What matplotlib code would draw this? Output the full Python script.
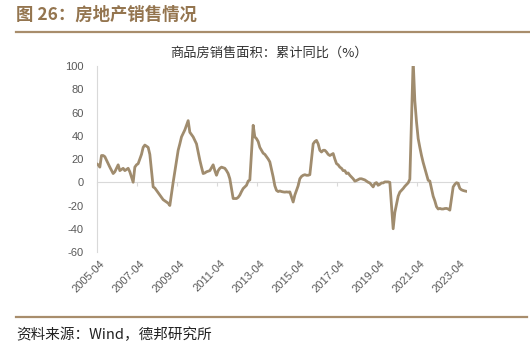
import matplotlib
matplotlib.use('Agg')
import matplotlib.pyplot as plt
from matplotlib.lines import Line2D
import matplotlib.transforms as mtransforms

plt.rcParams['font.family'] = ['Noto Sans CJK SC', 'DejaVu Sans']

# 商品房销售面积 累计同比 (%) — monthly values, January not published
first_months = {2005: 4}          # series starts 2005-04
y2005 = [16, 15, 13, 23, 23, 22, 19, 16, 13]                       # Apr..Dec
y2006 = [7.5, 9, 12, 15, 10, 11, 12, 10, 11, 12, 9]                # Feb..Dec
y2007 = [0, 13, 15, 16, 20, 24, 30, 32, 31, 30, 24]
y2008 = [-4, -5, -7, -9, -11, -13, -15, -16, -17, -18, -20]
y2009 = [0, 9, 18, 27.5, 33, 39, 42, 45, 49, 53, 43]
y2010 = [39, 36, 33, 26, 19, 13, 7.5, 8, 9, 9.5, 10]
y2011 = [15, 10, 6, 10, 12, 13, 12.5, 12, 10, 7.5, 3]
y2012 = [-14, -14, -14, -13, -11, -8, -5.4, -4, -2.6, 1, 2]
y2013 = [49, 39, 37.5, 35, 30, 27.5, 25, 24, 22, 20, 17.5]
y2014 = [4.6, -3, -7, -8, -7.5, -8, -8.3, -8.5, -8.3, -8.5, -8.3]
y2015 = [-17, -11, -7, -3, 3, 5, 6, 6.5, 6, 6, 6.5]
y2016 = [33, 35, 36, 33, 27.5, 26, 27.5, 27.5, 26, 24, 23]
y2017 = [24.7, 20, 16, 15, 13, 12, 10, 10, 7.5, 8, 6]
y2018 = [3, 1, 1.5, 2.3, 3, 3, 2.5, 2, 1, 0, -0.6]
y2019 = [-4, -1, -0.3, -2.6, -1.8, -0.6, -0.6, 0.3, 0.3, 0.3, -0.1]
y2020 = [-40, -26, -19, -12, -8.5, -7, -5.4, -3.5, -2, -0.5, 2.6]
y2021 = [104.9, 70, 52, 37.6, 30, 23, 17, 12, 7, 1.7, 1]
y2022 = [-12, -16, -21, -23, -22.5, -23, -23, -22.6, -22.5, -23, -24]
y2023 = [-4, -1.8, -0.4, -0.9, -5.3, -6.5, -7.1, -7.5, -7.8]        # Feb..Oct

years_data = {2005: y2005, 2006: y2006, 2007: y2007, 2008: y2008, 2009: y2009,
              2010: y2010, 2011: y2011, 2012: y2012, 2013: y2013, 2014: y2014,
              2015: y2015, 2016: y2016, 2017: y2017, 2018: y2018, 2019: y2019,
              2020: y2020, 2021: y2021, 2022: y2022, 2023: y2023}

xtick_labels = ['2005-04', '2007-04', '2009-04', '2011-04', '2013-04',
                '2015-04', '2017-04', '2019-04', '2021-04', '2023-04']
yticks = [-60, -40, -20, 0, 20, 40, 60, 80, 100]

def month_index(year, month):
    return (year - 2005) * 12 + (month - 4)

xs, vs = [], []
for yr, vals in years_data.items():
    m0 = first_months.get(yr, 2)
    for i, v in enumerate(vals):
        xs.append(month_index(yr, m0 + i))
        vs.append(v)

fig = plt.figure(figsize=(5.3, 3.58), dpi=100)
ax = fig.add_axes([96.5 / 530, 1 - 252 / 358, 370 / 530, 186 / 358])
ax.set_xlim(0, max(xs))
ax.set_ylim(-60, 100)

ax.plot(xs, vs, color='#A08C6E', lw=2.0, solid_joinstyle='round', zorder=3)

for s in ['top', 'right']:
    ax.spines[s].set_visible(False)
ax.spines['left'].set_color('#D9D9D9')
ax.spines['left'].set_linewidth(0.8)
ax.spines['bottom'].set_position(('data', 0))
ax.spines['bottom'].set_color('#D9D9D9')
ax.spines['bottom'].set_linewidth(0.8)

ax.set_yticks(yticks)
ax.set_yticklabels([str(t) for t in yticks], fontsize=8, color='#595959',
                   family=['Liberation Sans'])
ax.tick_params(axis='y', length=0, pad=9)

tick_pos = [month_index(int(l[:4]), int(l[5:])) for l in xtick_labels]
ax.set_xticks(tick_pos)
ax.tick_params(axis='x', length=3, color='#D9D9D9', direction='out', labelbottom=False)

trans = mtransforms.blended_transform_factory(ax.transData, ax.transAxes)
for p, lab in zip(tick_pos, xtick_labels):
    ax.text(p + 2, -0.035, lab, transform=trans, rotation=45, rotation_mode='anchor',
            ha='right', va='top', fontsize=8, color='#595959',
            family=['Liberation Sans'])

# header / footer
fig.text(16 / 530, 1 - 15 / 358, '图 26：房地产销售情况', fontsize=12.5, fontweight='bold',
         color='#94754F', ha='left', va='center')
fig.add_artist(Line2D([16 / 530, 1], [1 - 32 / 358] * 2, transform=fig.transFigure,
                      color='#A88D6C', lw=1.6))
fig.text(269 / 530, 1 - 53 / 358, '商品房销售面积：累计同比（%）', fontsize=9.5,
         color='#333333', ha='center', va='center')
fig.add_artist(Line2D([16 / 530, 0.995], [1 - 317 / 358] * 2, transform=fig.transFigure,
                      color='#A88D6C', lw=1.6))
fig.text(16 / 530, 1 - 335 / 358, '资料来源：Wind，德邦研究所', fontsize=10.5,
         color='#222222', ha='left', va='center')

fig.savefig('out.png', dpi=100, facecolor='white')
